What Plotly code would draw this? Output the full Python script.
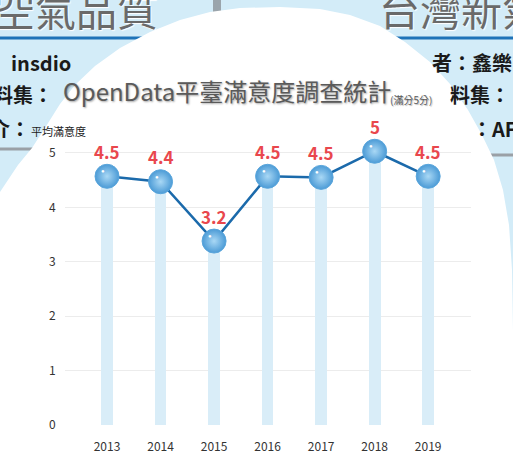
import plotly.graph_objects as go

# ---- data ----
years = ["2013", "2014", "2015", "2016", "2017", "2018", "2019"]
satisfaction = [4.57, 4.47, 3.38, 4.57, 4.55, 5.03, 4.57]
value_labels = ["4.5", "4.4", "3.2", "4.5", "4.5", "5", "4.5"]
y_ticks = [0, 1, 2, 3, 4, 5]

title_text = "OpenData平臺滿意度調查統計"
title_note = "(滿分5分)"
y_title = "平均滿意度"

# ---- layout geometry (pixels) ----
W, H = 513, 455
L, R, T, B = 65, 42, 142, 30
PW, PH = W - L - R, H - T - B


def fx(px):
    return (px - L) / PW


def fy(py):
    return (H - B - py) / PH


FONT = "Noto Sans CJK TC"

fig = go.Figure()

fig.add_trace(go.Bar(
    x=years, y=satisfaction, width=0.22,
    marker=dict(color="#d9edf8", line=dict(width=0)),
    hoverinfo="skip", showlegend=False,
))

fig.add_trace(go.Scatter(
    x=years, y=satisfaction, mode="lines+markers",
    line=dict(color="#1b6aab", width=2.5),
    marker=dict(size=24, color="#4c9bd6",
                gradient=dict(type="radial", color="#a9d8f5"),
                line=dict(width=1, color="#5aa6dc")),
    cliponaxis=False, showlegend=False,
))

annotations = []
for i, (v, lab) in enumerate(zip(satisfaction, value_labels)):
    annotations.append(dict(x=i, y=v, xref="x", yref="y", text=lab, showarrow=False,
                            yshift=25, font=dict(family=FONT, size=17, color="#e9474d", weight="bold")))
    annotations.append(dict(x=i, y=v, xref="x", yref="y", text="●", showarrow=False,
                            xshift=-4, yshift=5, font=dict(size=6, color="#ffffff")))

# background poster texts
bg_font = dict(family=FONT, size=20, color="#1a1a1a", weight="bold")
annotations += [
    dict(x=fx(-8), y=fy(8), text="空氣品質", xanchor="left", yanchor="middle",
         font=dict(family=FONT, size=41, color="#6a6a6a", shadow="1px 1px 1px #ffffff")),
    dict(x=fx(377), y=fy(8), text="台灣新氣", xanchor="left", yanchor="middle",
         font=dict(family=FONT, size=41, color="#6a6a6a", shadow="1px 1px 1px #ffffff")),
    dict(x=fx(9), y=fy(62), text="insdio", xanchor="left", yanchor="middle", font=bg_font),
    dict(x=fx(-9), y=fy(95), text="料集：", xanchor="left", yanchor="middle", font=bg_font),
    dict(x=fx(-12), y=fy(128), text="介：", xanchor="left", yanchor="middle", font=bg_font),
    dict(x=fx(430), y=fy(62), text="者：鑫樂", xanchor="left", yanchor="middle", font=bg_font),
    dict(x=fx(448), y=fy(95), text="料集：", xanchor="left", yanchor="middle", font=bg_font),
    dict(x=fx(470), y=fy(128), text="：AF", xanchor="left", yanchor="middle", font=bg_font),
]
# chart title and axis title
annotations += [
    dict(x=fx(61), y=fy(90), text=title_text, xanchor="left", yanchor="middle",
         font=dict(family=FONT, size=24, color="#5a5a5a", shadow="1px 1px 2px rgba(0,0,0,0.35)")),
    dict(x=fx(388), y=fy(99), text=title_note, xanchor="left", yanchor="middle",
         font=dict(family=FONT, size=10, color="#5a5a5a", shadow="1px 1px 1px rgba(0,0,0,0.3)")),
    dict(x=fx(29), y=fy(131), text=y_title, xanchor="left", yanchor="middle",
         font=dict(family=FONT, size=11, color="#222222")),
]
for a in annotations:
    a.setdefault("xref", "paper")
    a.setdefault("yref", "paper")
    a.setdefault("showarrow", False)

# white rounded region
edge = [(0, 460), (0, 192), (18, 165), (32, 148), (45, 128), (60, 104), (75, 85), (95, 66),
        (120, 48), (150, 32), (180, 20), (210, 12), (240, 8), (280, 7), (320, 9), (350, 15),
        (380, 26), (405, 42), (430, 62), (450, 84), (468, 110), (482, 135), (494, 160),
        (503, 190), (509, 225), (512, 270), (513, 330), (515, 460)]
path = "M " + " L ".join(f"{fx(a):.4f},{fy(b):.4f}" for a, b in edge) + " Z"

shapes = [
    dict(type="rect", xref="paper", yref="paper", x0=fx(213), x1=fx(221), y0=fy(0), y1=fy(35),
         fillcolor="#9aa4ab", line=dict(width=0), layer="below"),
    dict(type="line", xref="paper", yref="paper", x0=fx(0), x1=fx(513), y0=fy(38), y1=fy(38),
         line=dict(color="#1e73b8", width=3), layer="below"),
    dict(type="line", xref="paper", yref="paper", x0=fx(0), x1=fx(60), y0=fy(149), y1=fy(149),
         line=dict(color="#9aa0a6", width=3), layer="below"),
    dict(type="line", xref="paper", yref="paper", x0=fx(470), x1=fx(513), y0=fy(155), y1=fy(155),
         line=dict(color="#9aa0a6", width=3), layer="below"),
    dict(type="path", xref="paper", yref="paper", path=path, fillcolor="#ffffff",
         line=dict(width=0), layer="below"),
]

fig.update_layout(
    width=W, height=H,
    margin=dict(l=L, r=R, t=T, b=B, pad=0, autoexpand=False),
    paper_bgcolor="#d3ecf8",
    plot_bgcolor="rgba(0,0,0,0)",
    showlegend=False,
    bargap=0,
    annotations=annotations,
    shapes=shapes,
    xaxis=dict(type="category", range=[-0.785, 6.8], showgrid=False, zeroline=False, showline=False,
               automargin=False, ticks="outside", ticklen=11, tickcolor="rgba(0,0,0,0)",
               tickfont=dict(family=FONT, size=12, color="#333333")),
    yaxis=dict(range=[0, 5.2], tickvals=y_ticks, showgrid=True, gridcolor="#ececec", gridwidth=1,
               automargin=False, zeroline=False, showline=False, ticks="outside", ticklen=6,
               tickcolor="rgba(0,0,0,0)",
               tickfont=dict(family=FONT, size=12, color="#333333")),
)

fig.write_html("out.html", config={"displayModeBar": False},
               post_script="document.body.style.margin='0';")
